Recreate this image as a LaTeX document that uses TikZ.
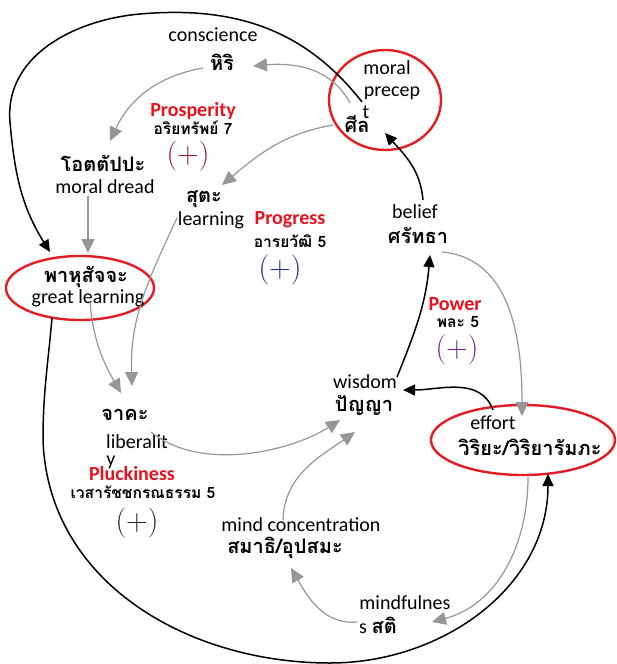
\documentclass[tikz,border=0pt]{standalone}
\usepackage{fontspec}
\setsansfont{Carlito}
\newfontfamily\thaifont[Script=Thai]{Loma}
\usetikzlibrary{arrows.meta}
\definecolor{RingClr}{RGB}{228,28,36}
\definecolor{TitleClr}{RGB}{232,18,28}
\definecolor{GrayClr}{RGB}{150,150,150}
\definecolor{ProspClr}{RGB}{150,30,45}
\definecolor{ProgClr}{RGB}{35,45,130}
\definecolor{PowerClr}{RGB}{115,40,140}
\definecolor{PluckClr}{RGB}{40,40,40}

\tikzset{
  en/.style={font=\sffamily\fontsize{10}{12}\selectfont,inner sep=0pt},
  th/.style={font=\thaifont\bfseries\fontsize{10}{12}\selectfont,inner sep=0pt},
  thsmall/.style={font=\thaifont\bfseries\fontsize{7.8}{9}\selectfont,inner sep=0pt},
  looptitle/.style={font=\sffamily\bfseries\fontsize{10}{12}\selectfont,text=TitleClr,inner sep=0pt},
  loopsign/.style={font=\fontsize{15}{17}\selectfont,inner sep=0pt},
  ring/.style={draw=RingClr,line width=1.2pt},
  grayarr/.style={draw=GrayClr,line width=0.6pt,-{Triangle[length=7pt,width=6.5pt,fill=GrayClr]}},
  blackarr/.style={draw=black,line width=0.75pt,-{Triangle[length=6pt,width=5.5pt]}}
}

\begin{document}
\begin{tikzpicture}[x=0.5pt,y=-0.5pt]
\useasboundingbox (0,0) rectangle (616,664);

% Red rings round the three key factors.
\draw[ring] (385,100) ellipse [x radius=28pt,y radius=25pt];
\draw[ring] (80,288) ellipse [x radius=37pt,y radius=16pt];
\draw[ring] (523,440) ellipse [x radius=46pt,y radius=17.5pt];

% Factor labels.
\node[en] (consc) at (213,35) {conscience};
\node[th] (hiri) at (222,62) {หิริ};
\node[th] (otta) at (103,163) {โอตตัปปะ};
\node[en] (dread) at (105,187) {moral dread};
\node[th] (suta) at (204,199) {สุตะ};
\node[en] (learn) at (211,220) {learning};
\node[th] (bahu) at (86,277) {พาหุสัจจะ};
\node[en] (great) at (88,298) {great learning};
\node[en] (moral) at (387,68) {moral};
\node[en] (precep) at (392,93) {precep};
\node[en] (tchar) at (366,112) {t};
\node[th] (sila) at (357,124) {ศีล};
\node[en] (belief) at (415,212) {belief};
\node[th] (sattha) at (418,235) {ศรัทธา};
\node[en] (wisdom) at (365,382) {wisdom};
\node[th] (panya) at (364,405) {ปัญญา};
\node[en] (effort) at (493,423) {effort};
\node[th] (viriya) at (530,447) {วิริยะ/วิริยารัมภะ};
\node[th] (jaka) at (125,415) {จาคะ};
\node[en] (liberal) at (137,442) {liberalit};
\node[en] (ychar) at (111,462) {y};
\node[en] (mindc) at (301,525) {mind concentration};
\node[th] (samadhi) at (285,548) {สมาธิ/อุปสมะ};
\node[en] (mindful) at (405,603) {mindfulnes};
\node[inner sep=0pt] (sati) at (378,625) {\sffamily\fontsize{10}{12}\selectfont s \thaifont\bfseries สติ};

% Loop names and polarities.
\node[looptitle] (prosp) at (193,111) {Prosperity};
\node[thsmall] (prospT) at (193,128) {อริยทรัพย์ 7};
\node[loopsign,text=ProspClr] (prospS) at (188,156) {(+)};
\node[looptitle] (progr) at (290,220) {Progress};
\node[thsmall] (progrT) at (290,241) {อารยวัฒิ 5};
\node[loopsign,text=ProgClr] (progrS) at (280,270) {(+)};
\node[looptitle] (power) at (455,304) {Power};
\node[thsmall] (powerT) at (458,322) {พละ 5};
\node[loopsign,text=PowerClr] (powerS) at (457,350) {(+)};
\node[looptitle] (pluck) at (132,474) {Pluckiness};
\node[thsmall] (pluckT) at (143,492) {เวสารัชชกรณธรรม 5};
\node[loopsign,text=PluckClr] (pluckS) at (137,523) {(+)};

% Connector end points.
\coordinate (silaA) at (362,102);
\coordinate (silaB) at (350,103);
\coordinate (silaC) at (333,125);
\coordinate (hiriIn) at (253,66);
\coordinate (hiriOut) at (203,68);
\coordinate (ottaIn) at (110,141);
\coordinate (sutaIn) at (222,185);
\coordinate (learnOut) at (177,218);
\coordinate (dreadOut) at (88,196);
\coordinate (bahuIn) at (88,253);
\coordinate (bahuTop) at (50,252);
\coordinate (bahuOut) at (90,302);
\coordinate (bahuLow) at (52,318);
\coordinate (jakaInA) at (132,386);
\coordinate (jakaInB) at (121,393);
\coordinate (liberalOut) at (151,432);
\coordinate (panyaInA) at (340,420);
\coordinate (panyaInB) at (355,432);
\coordinate (mindcOut) at (283,520);
\coordinate (mindcIn) at (291,568);
\coordinate (satiOut) at (357,622);
\coordinate (satiIn) at (432,622);
\coordinate (effortOut) at (528,477);
\coordinate (effortIn) at (548,474);
\coordinate (effortTop) at (493,410);
\coordinate (effortGray) at (522,416);
\coordinate (wisdomIn) at (403,390);
\coordinate (wisdomOut) at (397,377);
\coordinate (beliefIn) at (430,255);
\coordinate (beliefOut) at (423,200);
\coordinate (beliefRight) at (442,252);
\coordinate (silaIn) at (385,133);

% Gray links.
\draw[grayarr] (silaB) to[out=118,in=5] (hiriIn);
\draw[grayarr] (hiriOut) to[out=190,in=65] (ottaIn);
\draw[grayarr] (silaC) to[out=190,in=40] (sutaIn);
\draw[grayarr] (dreadOut) -- (bahuIn);
\draw[grayarr] (learnOut) to[out=-115,in=92] (jakaInA);
\draw[grayarr] (bahuOut) to[out=-85,in=120] (jakaInB);
\draw[grayarr] (liberalOut) .. controls (200,472) and (290,452) .. (panyaInA);
\draw[grayarr] (mindcOut) to[out=88,in=215] (panyaInB);
\draw[grayarr] (satiOut) to[out=185,in=-60] (mindcIn);
\draw[grayarr] (effortOut) to[out=-90,in=15] (satiIn);
\draw[grayarr] (beliefRight) to[out=-5,in=90] (effortGray);

% Black links.
\draw[blackarr] (silaA) to[out=128,in=5] (140,14) to[out=185,in=95] (10,122) to[out=-85,in=122] (bahuTop);
\draw[blackarr] (bahuLow) to[out=-95,in=90] (43,440) to[out=-88,in=180] (330,663) to[out=0,in=-90] (effortIn);
\draw[blackarr] (effortTop) to[out=110,in=0] (wisdomIn);
\draw[blackarr] (wisdomOut) to[out=68,in=-95] (beliefIn);
\draw[blackarr] (beliefOut) to[out=95,in=-48] (silaIn);

\end{tikzpicture}
\end{document}
